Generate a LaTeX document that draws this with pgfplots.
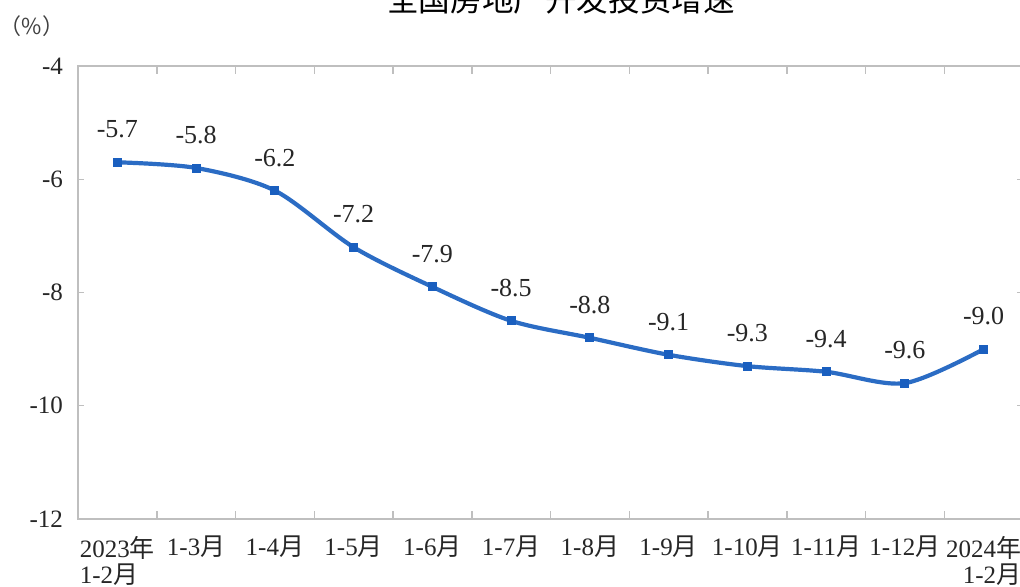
\documentclass[border=0pt]{standalone}
\usepackage{fontspec}
\setmainfont{Liberation Serif}
\newfontfamily\cjk{Noto Sans CJK SC}
\usepackage{pgfplots}
\usepackage{pgfplotstable}
\pgfplotsset{compat=1.18}

\definecolor{lineblue}{HTML}{2B6CC4}
\definecolor{markblue}{HTML}{1A5FBF}
\definecolor{axisgray}{HTML}{BFBFBF}
\newcommand{\yue}{{\cjk 月}}
\newcommand{\nian}{{\cjk 年}}
\renewcommand{\arraystretch}{0.85}

\pgfplotstableread{
x y label
0 -5.7 -5.7
1 -5.8 -5.8
2 -6.2 -6.2
3 -7.2 -7.2
4 -7.9 -7.9
5 -8.5 -8.5
6 -8.8 -8.8
7 -9.1 -9.1
8 -9.3 -9.3
9 -9.4 -9.4
10 -9.6 -9.6
11 -9.0 -9.0
}\investdata

\begin{document}
\begin{tikzpicture}[x=1pt,y=1pt]
\useasboundingbox (0,0) rectangle (510,293);
\clip (0,0) rectangle (510,293);
\begin{axis}[
  at={(39pt,33.5pt)}, anchor=south west,
  scale only axis, width=472.5pt, height=226.5pt,
  xmin=-0.5, xmax=11.5, ymin=-12, ymax=-4,
  axis line style={axisgray, line width=0.75pt},
  xtick={0,...,11},
  xticklabels={
    {\begin{tabular}{@{}l@{}}2023\nian\\1-2\yue\end{tabular}},
    {\begin{tabular}{@{}c@{}}1-3\yue\end{tabular}},
    {\begin{tabular}{@{}c@{}}1-4\yue\end{tabular}},
    {\begin{tabular}{@{}c@{}}1-5\yue\end{tabular}},
    {\begin{tabular}{@{}c@{}}1-6\yue\end{tabular}},
    {\begin{tabular}{@{}c@{}}1-7\yue\end{tabular}},
    {\begin{tabular}{@{}c@{}}1-8\yue\end{tabular}},
    {\begin{tabular}{@{}c@{}}1-9\yue\end{tabular}},
    {\begin{tabular}{@{}c@{}}1-10\yue\end{tabular}},
    {\begin{tabular}{@{}c@{}}1-11\yue\end{tabular}},
    {\begin{tabular}{@{}c@{}}1-12\yue\end{tabular}},
    {\begin{tabular}{@{}r@{}}2024\nian\\1-2\yue\end{tabular}}
  },
  major x tick style={draw=none},
  minor xtick={0.5,1.5,...,10.5},
  minor x tick style={axisgray, line width=0.75pt},
  minor tick length=4pt,
  ytick={-12,-10,-8,-6,-4},
  y tick style={axisgray, line width=0.6pt},
  major tick length=3pt,
  tick align=inside,
  tick label style={font=\fontsize{12.5}{14}\selectfont, text=black!85},
  yticklabel style={xshift=-4pt},
  xticklabel style={yshift=-5pt},
  /pgf/number format/assume math mode=true,
  clip=false,
]
\addplot[lineblue, line width=2.1pt, smooth,
  mark=square*, mark size=2pt,
  mark options={fill=markblue, draw=markblue, line width=0.4pt, solid},
  nodes near coords, point meta=explicit symbolic,
  nodes near coords style={font=\fontsize{13}{15}\selectfont, text=black!85,
    anchor=center, yshift=16.5pt}]
  table[x=x, y=y, meta=label] {\investdata};
\end{axis}
\node[anchor=base, font=\cjk\fontsize{15.8}{18}\selectfont] at (280.5,287.5) {全国房地产开发投资增速};
\node[font=\cjk\fontsize{11}{13}\selectfont, text=black!75] at (16,280) {（\%）};
\end{tikzpicture}
\end{document}
